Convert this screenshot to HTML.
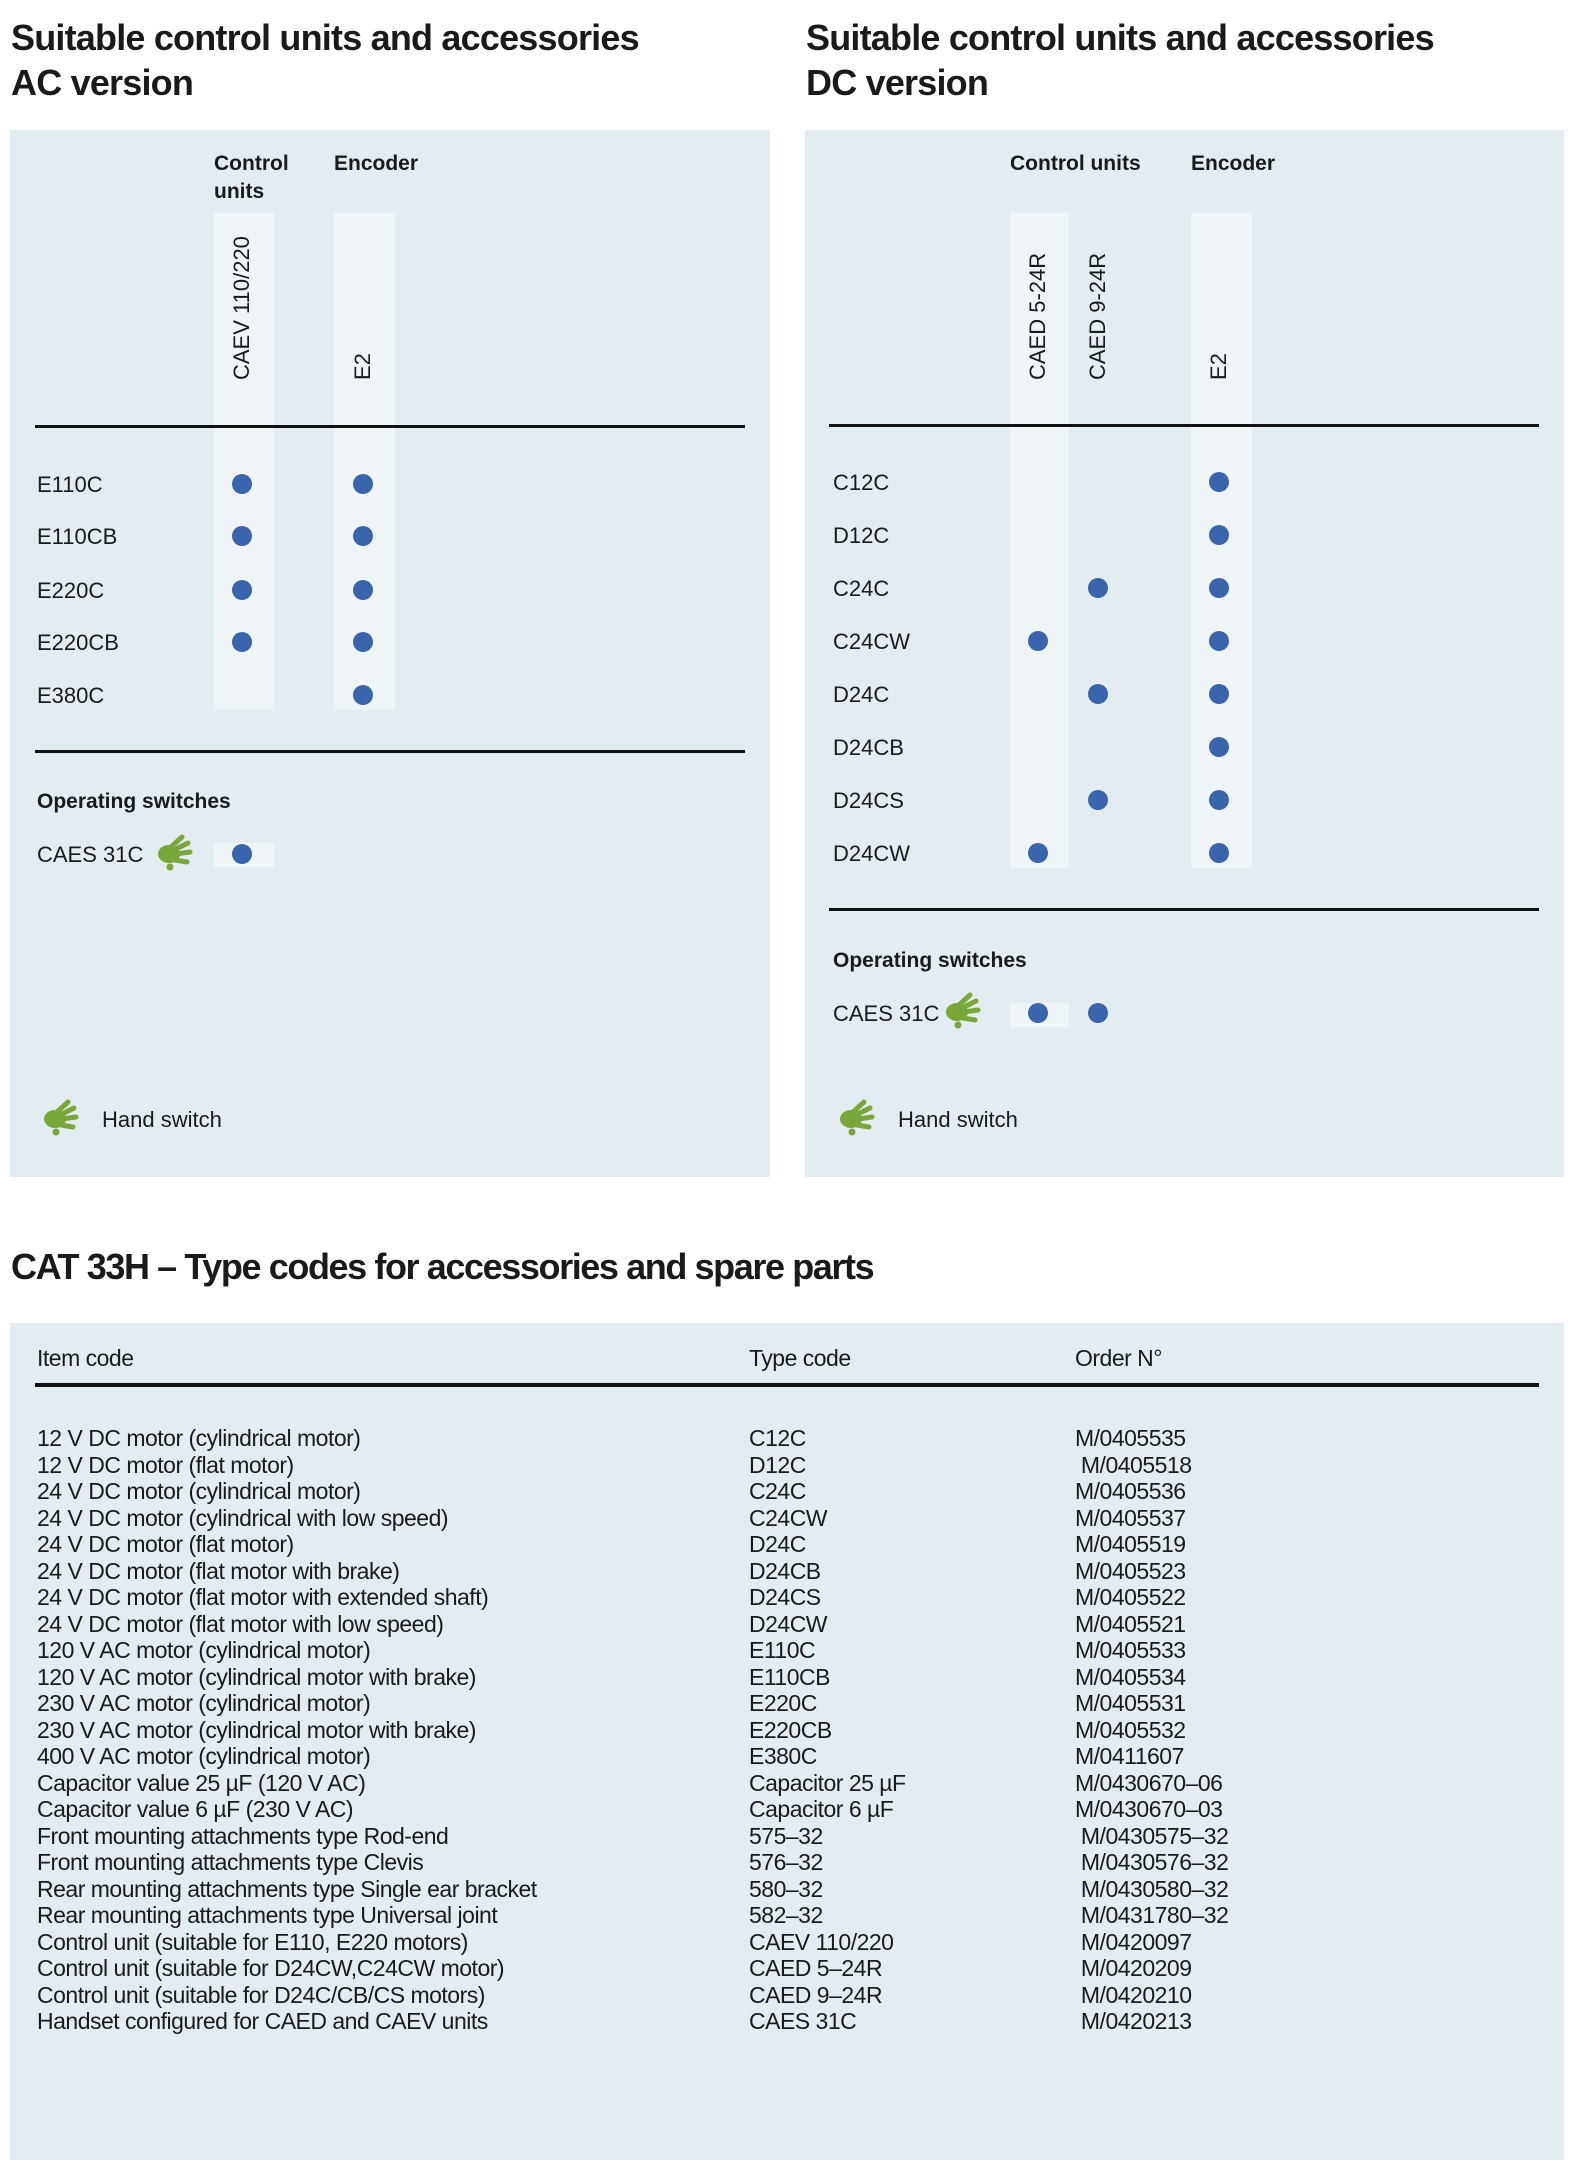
<!DOCTYPE html>
<html><head><meta charset="utf-8">
<style>
body{margin:0;width:1575px;height:2172px;background:#fff;position:relative;font-family:"Liberation Sans",sans-serif;color:#1a1a1a;overflow:hidden}
.a{position:absolute;white-space:nowrap}
.h1{font-size:36px;line-height:45px;font-weight:bold;letter-spacing:-0.8px}
.p{position:absolute;background:#e3ecf1}
.s{position:absolute;background:#eff5f7}
.l{position:absolute;height:3px;background:#111}
.t{position:absolute;font-size:22px;line-height:32px;white-space:nowrap}
.b{position:absolute;font-size:21px;line-height:28px;white-space:nowrap;font-weight:bold}
.d{position:absolute;width:20px;height:20px;border-radius:50%;background:#3a65ad}
.v{position:absolute;writing-mode:vertical-rl;transform:rotate(180deg);font-size:22px;line-height:26px;height:150px;white-space:nowrap}
.r{position:absolute;font-size:23px;line-height:26.5px;white-space:pre;letter-spacing:-0.5px}
</style></head><body>
<svg width="0" height="0" style="position:absolute"><defs><g id="hand"><ellipse cx="13" cy="20" rx="11" ry="9" fill="#78a83a"/><path d="M15 13 L26 3 M18 16 L32 9 M20 20 L34 18 M19 26 L31 28" stroke="#78a83a" stroke-width="5" stroke-linecap="round"/><circle cx="14" cy="33" r="3.5" fill="#78a83a"/></g></defs></svg>

<div class="a h1" style="left:11px;top:15px">Suitable control units and accessories<br>AC version</div>
<div class="a h1" style="left:806px;top:15px">Suitable control units and accessories<br>DC version</div>

<!-- AC panel -->
<div class="p" style="left:10px;top:130px;width:760px;height:1047px"></div>
<div class="s" style="left:214px;top:213px;width:60px;height:497px"></div>
<div class="s" style="left:334px;top:213px;width:61px;height:497px"></div>
<div class="s" style="left:214px;top:843px;width:60px;height:24px"></div>
<div class="b" style="left:214px;top:150px">Control<br>units</div>
<div class="b" style="left:334px;top:150px">Encoder</div>
<div class="v" style="left:229px;top:230px">CAEV 110/220</div>
<div class="v" style="left:350px;top:230px">E2</div>
<div class="l" style="left:35px;top:425px;width:710px"></div>
<div class="l" style="left:35px;top:750px;width:710px"></div>
<div class="t" style="left:37px;top:469px">E110C</div>
<div class="t" style="left:37px;top:521px">E110CB</div>
<div class="t" style="left:37px;top:575px">E220C</div>
<div class="t" style="left:37px;top:627px">E220CB</div>
<div class="t" style="left:37px;top:680px">E380C</div>
<div class="d" style="left:232px;top:474px"></div><div class="d" style="left:353px;top:474px"></div>
<div class="d" style="left:232px;top:526px"></div><div class="d" style="left:353px;top:526px"></div>
<div class="d" style="left:232px;top:580px"></div><div class="d" style="left:353px;top:580px"></div>
<div class="d" style="left:232px;top:632px"></div><div class="d" style="left:353px;top:632px"></div>
<div class="d" style="left:353px;top:685px"></div>
<div class="b" style="left:37px;top:788px">Operating switches</div>
<div class="t" style="left:37px;top:839px">CAES 31C</div>
<svg class="a" style="left:156px;top:834px" width="40" height="40"><use href="#hand"/></svg>
<div class="d" style="left:232px;top:844px"></div>
<svg class="a" style="left:42px;top:1099px" width="40" height="40"><use href="#hand"/></svg>
<div class="t" style="left:102px;top:1104px">Hand switch</div>

<!-- DC panel -->
<div class="p" style="left:805px;top:130px;width:759px;height:1047px"></div>
<div class="s" style="left:1010px;top:213px;width:59px;height:655px"></div>
<div class="s" style="left:1191px;top:213px;width:61px;height:655px"></div>
<div class="s" style="left:1010px;top:1003px;width:59px;height:24px"></div>
<div class="b" style="left:1010px;top:150px">Control units</div>
<div class="b" style="left:1191px;top:150px">Encoder</div>
<div class="v" style="left:1025px;top:230px">CAED 5-24R</div>
<div class="v" style="left:1085px;top:230px">CAED 9-24R</div>
<div class="v" style="left:1206px;top:230px">E2</div>
<div class="l" style="left:829px;top:424px;width:710px"></div>
<div class="l" style="left:829px;top:908px;width:710px"></div>
<div class="t" style="left:833px;top:467px">C12C</div>
<div class="t" style="left:833px;top:520px">D12C</div>
<div class="t" style="left:833px;top:573px">C24C</div>
<div class="t" style="left:833px;top:626px">C24CW</div>
<div class="t" style="left:833px;top:679px">D24C</div>
<div class="t" style="left:833px;top:732px">D24CB</div>
<div class="t" style="left:833px;top:785px">D24CS</div>
<div class="t" style="left:833px;top:838px">D24CW</div>
<div class="d" style="left:1209px;top:472px"></div>
<div class="d" style="left:1209px;top:525px"></div>
<div class="d" style="left:1088px;top:578px"></div><div class="d" style="left:1209px;top:578px"></div>
<div class="d" style="left:1028px;top:631px"></div><div class="d" style="left:1209px;top:631px"></div>
<div class="d" style="left:1088px;top:684px"></div><div class="d" style="left:1209px;top:684px"></div>
<div class="d" style="left:1209px;top:737px"></div>
<div class="d" style="left:1088px;top:790px"></div><div class="d" style="left:1209px;top:790px"></div>
<div class="d" style="left:1028px;top:843px"></div><div class="d" style="left:1209px;top:843px"></div>
<div class="b" style="left:833px;top:947px">Operating switches</div>
<div class="t" style="left:833px;top:998px">CAES 31C</div>
<svg class="a" style="left:944px;top:992px" width="40" height="40"><use href="#hand"/></svg>
<div class="d" style="left:1028px;top:1003px"></div><div class="d" style="left:1088px;top:1003px"></div>
<svg class="a" style="left:838px;top:1099px" width="40" height="40"><use href="#hand"/></svg>
<div class="t" style="left:898px;top:1104px">Hand switch</div>

<!-- bottom -->
<div class="a" style="left:11px;top:1245px;font-size:36px;line-height:44px;font-weight:bold;letter-spacing:-1.4px">CAT 33H – Type codes for accessories and spare parts</div>
<div class="p" style="left:10px;top:1323px;width:1554px;height:837px"></div>
<div class="r" style="left:37px;top:1345px">Item code</div>
<div class="r" style="left:749px;top:1345px">Type code</div>
<div class="r" style="left:1075px;top:1345px">Order N°</div>
<div class="l" style="left:35px;top:1383px;width:1504px;height:4px"></div>
<div class="r" style="left:37px;top:1425px">12 V DC motor (cylindrical motor)
12 V DC motor (flat motor)
24 V DC motor (cylindrical motor)
24 V DC motor (cylindrical with low speed)
24 V DC motor (flat motor)
24 V DC motor (flat motor with brake)
24 V DC motor (flat motor with extended shaft)
24 V DC motor (flat motor with low speed)
120 V AC motor (cylindrical motor)
120 V AC motor (cylindrical motor with brake)
230 V AC motor (cylindrical motor)
230 V AC motor (cylindrical motor with brake)
400 V AC motor (cylindrical motor)
Capacitor value 25 µF (120 V AC)
Capacitor value 6 µF (230 V AC)
Front mounting attachments type Rod-end
Front mounting attachments type Clevis
Rear mounting attachments type Single ear bracket
Rear mounting attachments type Universal joint
Control unit (suitable for E110, E220 motors)
Control unit (suitable for D24CW,C24CW motor)
Control unit (suitable for D24C/CB/CS motors)
Handset configured for CAED and CAEV units</div>
<div class="r" style="left:749px;top:1425px">C12C
D12C
C24C
C24CW
D24C
D24CB
D24CS
D24CW
E110C
E110CB
E220C
E220CB
E380C
Capacitor 25 µF
Capacitor 6 µF
575–32
576–32
580–32
582–32
CAEV 110/220
CAED 5–24R
CAED 9–24R
CAES 31C</div>
<div class="r" style="left:1075px;top:1425px">M/0405535
 M/0405518
M/0405536
M/0405537
M/0405519
M/0405523
M/0405522
M/0405521
M/0405533
M/0405534
M/0405531
M/0405532
M/0411607
M/0430670–06
M/0430670–03
 M/0430575–32
 M/0430576–32
 M/0430580–32
 M/0431780–32
 M/0420097
 M/0420209
 M/0420210
 M/0420213</div>
</body></html>
